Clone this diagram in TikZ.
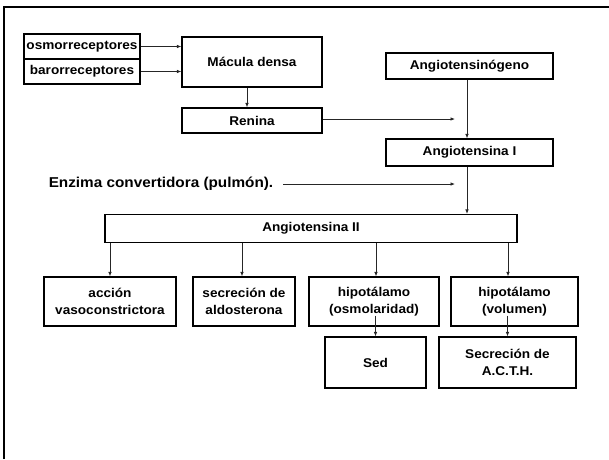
\documentclass[tikz,border=0pt]{standalone}
\usepackage{fontspec}
\setmainfont[FakeStretch=1.07]{Liberation Sans}
\usetikzlibrary{arrows.meta,calc}
\begin{document}
\begin{tikzpicture}[x=1pt,y=-1pt,
  box/.style={draw=black, line width=1.1pt, inner sep=0pt, align=center,
    font=\bfseries\fontsize{12.7}{16.5}\selectfont},
  arr/.style={draw=black!85, line width=0.8pt, -{Latex[length=4.5pt,width=3.6pt]}}]
\useasboundingbox (0,0) rectangle (609,459);
\draw[line width=2.4pt] (4,459) -- (4,7) -- (609,7);

% top left
\node[box, minimum width=116, minimum height=25] (osmo) at (82,46.5) {osmorreceptores};
\node[box, minimum width=116, minimum height=25] (baro) at (82,71.5) {barorreceptores};
\node[box, minimum width=140, minimum height=50] (macula) at (252,62) {Mácula densa};
\node[box, minimum width=140, minimum height=25] (renina) at (252,120.5) {Renina};

% right column
\node[box, minimum width=167, minimum height=26] (angino) at (469.5,66) {Angiotensinógeno};
\node[box, minimum width=167, minimum height=27] (ang1) at (469.5,152.5) {Angiotensina I};

\node[font=\bfseries\fontsize{14.3}{17}\selectfont, inner sep=0pt] (enz) at (161,184) {Enzima convertidora (pulmón).};

\node[box, minimum width=412, minimum height=28] (ang2) at (311,228.5) {Angiotensina II};

% row
\node[box, minimum width=132, minimum height=49] (b1) at (110,301.5) {acción\\vasoconstrictora};
\node[box, minimum width=102, minimum height=49] (b2) at (244,301.5) {secreción de\\aldosterona};
\node[box, minimum width=130, minimum height=49] (b3) at (374,301.5) {hipotálamo\\(osmolaridad)};
\node[box, minimum width=127, minimum height=49] (b4) at (514.5,301.5) {hipotálamo\\(volumen)};

\node[box, minimum width=101, minimum height=51] (sed) at (375.5,362.5) {Sed};
\node[box, minimum width=137, minimum height=51] (acth) at (507.5,362.5) {Secreción de\\A.C.T.H.};

% free ends
\coordinate (rinto) at (455,119);
\coordinate (einto) at (455,184);

% connectors
\draw[arr] (osmo.east) -- (osmo.east -| macula.west);
\draw[arr] (baro.east) -- (baro.east -| macula.west);
\draw[arr] ([xshift=-5]macula.south) -- ([xshift=-5]renina.north);
\draw[arr] (renina.east |- rinto) -- (rinto);
\draw[arr] ([xshift=10]enz.east) -- (einto);
\draw[arr] ([xshift=-2.5]angino.south) -- ([xshift=-2.5]ang1.north);
\draw[arr] ([xshift=-2.5]ang1.south) -- ([xshift=-2.5]ang1.south |- ang2.north);

\draw[arr] (b1.north |- ang2.south) -- (b1.north);
\draw[arr] ([xshift=-2]b2.north |- ang2.south) -- ([xshift=-2]b2.north);
\draw[arr] ([xshift=2]b3.north |- ang2.south) -- ([xshift=2]b3.north);
\draw[arr] ([xshift=-6.5]b4.north |- ang2.south) -- ([xshift=-6.5]b4.north);

\draw[arr] ($(sed.north |- b3.south)+(0,-11)$) -- (sed.north);
\draw[arr] ($(acth.north |- b4.south)+(0,-11)$) -- (acth.north);
\end{tikzpicture}
\end{document}
